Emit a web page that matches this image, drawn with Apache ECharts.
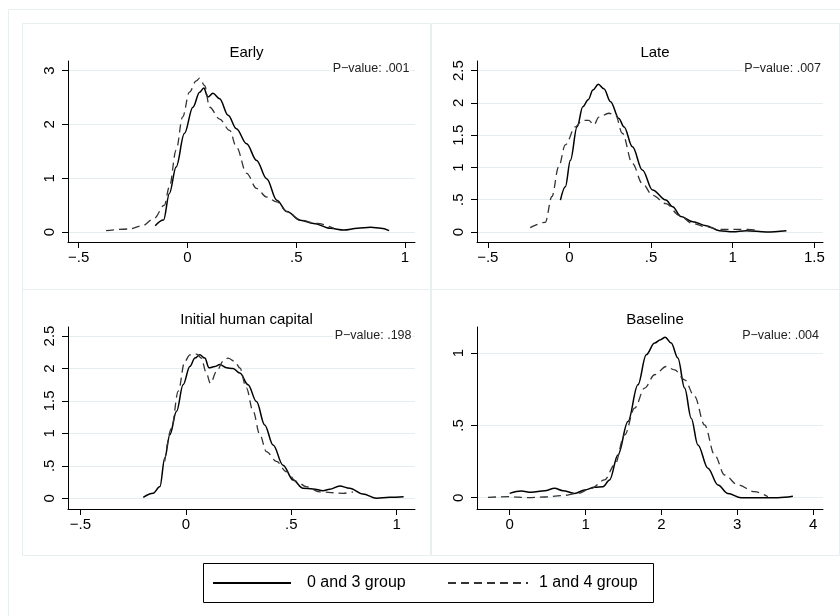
<!DOCTYPE html>
<html>
<head>
<meta charset="utf-8">
<script src="https://cdn.jsdelivr.net/npm/echarts@6/dist/echarts.min.js"></script>
<style>
  html, body { margin: 0; padding: 0; background: #fff; }
  #main { width: 840px; height: 616px; }
</style>
</head>
<body>
<div id="main"></div>
<script>
// density curves, [x, density]
var earlySolid = [[-0.148,0.117],[-0.110,0.222],[-0.083,0.716],[-0.052,1.21],[-0.014,1.83],[0.025,2.32],[0.056,2.60],[0.075,2.68],[0.094,2.51],[0.117,2.58],[0.148,2.48],[0.187,2.17],[0.225,1.92],[0.272,1.64],[0.318,1.33],[0.364,0.99],[0.411,0.59],[0.457,0.38],[0.519,0.22],[0.580,0.16],[0.657,0.068],[0.719,0.037],[0.781,0.068],[0.843,0.086],[0.889,0.068],[0.927,0.025]];
var earlyDashed = [[-0.374,0.025],[-0.269,0.056],[-0.207,0.117],[-0.153,0.253],[-0.106,0.50],[-0.083,0.84],[-0.052,1.52],[-0.022,2.14],[0.009,2.60],[0.040,2.81],[0.056,2.86],[0.079,2.72],[0.102,2.32],[0.148,2.10],[0.194,1.89],[0.225,1.58],[0.272,1.09],[0.318,0.81],[0.364,0.65],[0.411,0.56],[0.457,0.38],[0.519,0.22],[0.596,0.16],[0.673,0.068]];

var lateSolid = [[-0.055,0.495],[-0.025,0.70],[0.006,1.11],[0.047,1.63],[0.082,1.94],[0.115,2.05],[0.144,2.20],[0.177,2.29],[0.211,2.22],[0.252,2.02],[0.303,1.76],[0.334,1.63],[0.386,1.32],[0.447,0.96],[0.509,0.65],[0.591,0.495],[0.632,0.39],[0.683,0.24],[0.755,0.16],[0.837,0.098],[0.919,0.021],[1.0,0.005],[1.083,0.021],[1.206,0.0],[1.329,0.021]];
var lateDashed = [[-0.240,0.067],[-0.148,0.15],[-0.107,0.55],[-0.066,1.01],[-0.025,1.35],[0.037,1.63],[0.078,1.73],[0.119,1.73],[0.150,1.66],[0.180,1.78],[0.242,1.84],[0.283,1.81],[0.324,1.53],[0.386,1.06],[0.447,0.75],[0.509,0.57],[0.591,0.44],[0.673,0.26],[0.755,0.13],[0.837,0.082],[0.919,0.041],[1.042,0.041],[1.165,0.03]];

var humanSolid = [[-0.202,0.015],[-0.155,0.077],[-0.123,0.18],[-0.100,0.62],[-0.076,0.98],[-0.044,1.34],[-0.013,1.75],[0.019,2.03],[0.043,2.16],[0.066,2.21],[0.090,2.16],[0.110,2.01],[0.137,2.03],[0.161,2.06],[0.193,2.01],[0.224,2.00],[0.256,1.93],[0.295,1.75],[0.335,1.49],[0.374,1.13],[0.414,0.82],[0.461,0.51],[0.509,0.28],[0.556,0.154],[0.603,0.144],[0.651,0.117],[0.682,0.139],[0.730,0.19],[0.777,0.154],[0.840,0.066],[0.904,0.0],[0.967,0.015],[1.033,0.025]];
var humanDashed = [[-0.100,0.57],[-0.068,1.08],[-0.036,1.65],[-0.005,2.11],[0.019,2.21],[0.051,2.22],[0.074,2.16],[0.095,1.95],[0.117,1.77],[0.145,1.95],[0.177,2.11],[0.200,2.16],[0.232,2.11],[0.256,2.01],[0.287,1.70],[0.319,1.34],[0.351,0.98],[0.382,0.72],[0.430,0.57],[0.477,0.41],[0.524,0.26],[0.571,0.18],[0.635,0.10],[0.746,0.077],[0.793,0.10]];

var baseSolid = [[0.0,0.030],[0.153,0.046],[0.285,0.037],[0.461,0.048],[0.593,0.065],[0.702,0.048],[0.856,0.030],[0.988,0.053],[1.12,0.072],[1.229,0.076],[1.317,0.123],[1.427,0.296],[1.559,0.526],[1.690,0.78],[1.800,0.988],[1.910,1.069],[1.989,1.092],[2.050,1.11],[2.129,1.069],[2.217,0.965],[2.306,0.758],[2.393,0.55],[2.481,0.365],[2.613,0.204],[2.745,0.088],[2.877,0.030],[3.051,0.0],[3.315,0.0],[3.535,0.0],[3.733,0.01]];
var baseDashed = [[-0.286,0.003],[0.0,0.007],[0.241,0.0],[0.461,0.005],[0.680,0.014],[0.900,0.030],[1.075,0.065],[1.251,0.123],[1.383,0.226],[1.515,0.434],[1.647,0.619],[1.779,0.758],[1.910,0.85],[2.063,0.907],[2.174,0.884],[2.306,0.815],[2.437,0.70],[2.569,0.503],[2.701,0.296],[2.833,0.157],[3.008,0.088],[3.227,0.042],[3.403,0.007]];

var panelTitles = ['Early', 'Late', 'Initial human capital', 'Baseline'];
var pValues = ['P\u2212value: .001', 'P\u2212value: .007', 'P\u2212value: .198', 'P\u2212value: .004'];
var groupNames = ['0 and 3 group', '1 and 4 group'];

var xTicks = [[-0.5,0,0.5,1], [-0.5,0,0.5,1,1.5], [-0.5,0,0.5,1], [0,1,2,3,4]];
var yTicks = [[0,1,2,3], [0,0.5,1,1.5,2,2.5], [0,0.5,1,1.5,2,2.5], [0,0.5,1]];
var xRange = [[-0.549,1.046], [-0.566,1.553], [-0.559,1.087], [-0.431,4.13]];
var yRange = [[-0.186,3.18], [-0.155,2.65], [-0.165,2.639], [-0.078,1.18]];

var FONT = '"Liberation Sans", Arial, Helvetica, sans-serif';
var GRIDC = '#e4edef';
var FRAMEC = '#e8eff0';

// stata style labels: .5, -.5 with a real minus
function stataNum(v) {
  var s = String(Math.abs(v));
  if (s.indexOf('0.') === 0) s = s.slice(1);
  return (v < 0 ? '\u2212' : '') + s;
}

var grids = [
  { left: 68, top: 61, width: 347, height: 181 },
  { left: 477, top: 61, width: 346, height: 181 },
  { left: 68, top: 327, width: 347, height: 182 },
  { left: 477, top: 327, width: 346, height: 182 }
];

var xAxes = [], yAxes = [];
for (var i = 0; i < 4; i++) {
  xAxes.push({
    type: 'value', gridIndex: i, min: xRange[i][0], max: xRange[i][1],
    axisLine: { show: true, onZero: false, lineStyle: { color: '#000', width: 1 } },
    axisTick: { show: true, length: 6, customValues: xTicks[i], lineStyle: { color: '#000' } },
    axisLabel: { customValues: xTicks[i], formatter: stataNum, color: '#000', fontSize: 15, fontFamily: FONT, margin: 8 },
    splitLine: { show: false }
  });
  yAxes.push({
    type: 'value', gridIndex: i, min: yRange[i][0], max: yRange[i][1],
    axisLine: { show: true, onZero: false, lineStyle: { color: '#000', width: 1 } },
    axisTick: { show: true, length: 6, customValues: yTicks[i], lineStyle: { color: '#000' } },
    axisLabel: { customValues: yTicks[i], formatter: stataNum, rotate: 90, color: '#000', fontSize: 15, fontFamily: FONT, margin: 11 },
    splitLine: { show: true, lineStyle: { color: GRIDC, width: 1 } }
  });
}

var solidSets = [earlySolid, lateSolid, humanSolid, baseSolid];
var dashedSets = [earlyDashed, lateDashed, humanDashed, baseDashed];
var series = [];
for (var j = 0; j < 4; j++) {
  series.push({
    name: groupNames[0], type: 'line', xAxisIndex: j, yAxisIndex: j,
    data: solidSets[j], symbol: 'none', smooth: 0.35, smoothMonotone: 'x',
    lineStyle: { color: '#000', width: 1.5 }, itemStyle: { color: '#000' }
  });
  series.push({
    name: groupNames[1], type: 'line', xAxisIndex: j, yAxisIndex: j,
    data: dashedSets[j], symbol: 'none', smooth: 0.35, smoothMonotone: 'x',
    lineStyle: { color: '#333', width: 1.3, type: [8, 5] }, itemStyle: { color: '#333' }
  });
}

var titles = [];
for (var k = 0; k < 4; k++) {
  titles.push({
    text: panelTitles[k],
    left: grids[k].left + grids[k].width / 2,
    top: k < 2 ? 40 : 307,
    textAlign: 'center',
    textStyle: { fontSize: 15, fontWeight: 'normal', color: '#000', fontFamily: FONT }
  });
}

var pPos = [[410.5, 69], [822, 69], [412.5, 336], [820, 336]];
var graphics = [
  // outer frame and the four panel frames
  { type: 'rect', shape: { x: 8.5, y: 9.5, width: 900, height: 900 }, style: { fill: 'none', stroke: FRAMEC, lineWidth: 1 }, silent: true },
  { type: 'rect', shape: { x: 22.5, y: 23.5, width: 408, height: 266 }, style: { fill: 'none', stroke: FRAMEC, lineWidth: 1 }, silent: true },
  { type: 'rect', shape: { x: 431.5, y: 23.5, width: 408, height: 266 }, style: { fill: 'none', stroke: FRAMEC, lineWidth: 1 }, silent: true },
  { type: 'rect', shape: { x: 22.5, y: 289.5, width: 408, height: 266 }, style: { fill: 'none', stroke: FRAMEC, lineWidth: 1 }, silent: true },
  { type: 'rect', shape: { x: 431.5, y: 289.5, width: 408, height: 266 }, style: { fill: 'none', stroke: FRAMEC, lineWidth: 1 }, silent: true },
  // legend box
  { type: 'rect', shape: { x: 203.5, y: 563.5, width: 450, height: 39 }, style: { fill: '#fff', stroke: '#000', lineWidth: 1 }, z: 0, silent: true }
];
for (var m = 0; m < 4; m++) {
  graphics.push({
    type: 'text', x: pPos[m][0], y: pPos[m][1], silent: true, z: 10,
    style: { text: pValues[m], textAlign: 'right', textVerticalAlign: 'middle', fontSize: 12.5, fontFamily: FONT, fill: '#222',
      backgroundColor: '#fff', padding: [1, 1, 1, 2] }
  });
}

var legendBase = {
  top: 575, padding: 0, itemHeight: 14, selectedMode: false, z: 10,
  // hide the round marker, keep only the line sample
  itemStyle: { color: 'rgba(0,0,0,0)', borderWidth: 0, opacity: 0 }
};

var chart = echarts.init(document.getElementById('main'));
chart.setOption({
  animation: false,
  backgroundColor: '#fff',
  title: titles,
  grid: grids,
  xAxis: xAxes,
  yAxis: yAxes,
  legend: [
    Object.assign({}, legendBase, { data: [groupNames[0]], left: 212, itemWidth: 78,
      textStyle: { fontSize: 16, fontFamily: FONT, color: '#000', padding: [0, 0, 0, 11] } }),
    Object.assign({}, legendBase, { data: [groupNames[1]], left: 447, itemWidth: 80,
      textStyle: { fontSize: 16, fontFamily: FONT, color: '#000', padding: [0, 0, 0, 6] } })
  ],
  graphic: graphics,
  series: series
});
</script>
</body>
</html>
